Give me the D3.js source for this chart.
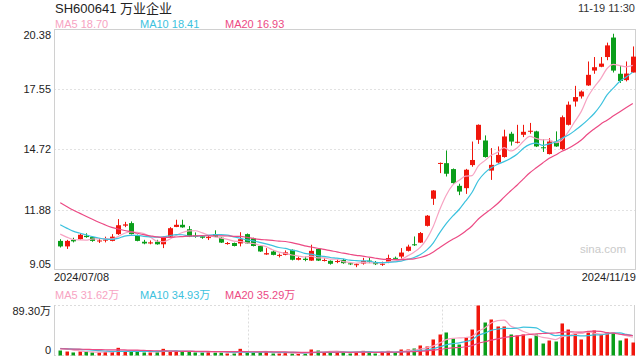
<!DOCTYPE html>
<html>
<head>
<meta charset="utf-8">
<script src="https://cdn.jsdelivr.net/npm/d3@7/dist/d3.min.js"></script>
<style>
body { margin: 0; background: #fff; }
text { font-family: "Liberation Sans", Arial, "Noto Sans CJK SC", sans-serif; }
</style>
</head>
<body>
<div id="kline"></div>
<script>
// daily candles 2024/07/08 .. 2024/11/19 (90 sessions)
const open  = [10.40,10.14,10.45,10.48,10.64,10.58,10.38,10.42,10.40,10.72,11.12,11.24,10.66,10.36,10.28,10.36,10.24,10.60,11.06,11.16,
               10.95,10.65,10.62,10.56,10.72,10.55,10.28,10.30,10.28,10.72,10.52,10.16,9.76,9.90,9.71,9.74,9.98,9.51,9.56,9.47,
               10.02,9.47,9.46,9.43,9.50,9.34,9.28,9.33,9.47,9.40,9.30,9.42,9.60,9.66,9.93,10.24,10.32,11.11,12.39,14.05,
               14.07,13.79,13.00,12.89,13.98,15.17,15.14,13.72,14.10,14.36,15.46,15.05,15.41,15.58,15.57,14.82,14.50,15.09,14.73,15.88,
               16.98,17.22,17.74,18.44,18.62,19.08,20.00,18.29,17.99,18.35];
const close = [10.14,10.40,10.38,10.69,10.58,10.40,10.42,10.46,10.60,11.14,11.18,10.72,10.40,10.28,10.33,10.24,10.55,11.00,11.16,11.04,
               10.60,10.60,10.55,10.58,10.60,10.32,10.30,10.16,10.48,10.28,10.16,9.90,9.82,9.74,9.74,9.86,9.51,9.59,9.50,9.93,
               9.47,9.50,9.32,9.45,9.35,9.31,9.30,9.45,9.42,9.30,9.32,9.59,9.58,9.85,10.13,10.20,10.77,11.59,12.78,14.08,
               13.57,13.13,12.73,13.76,14.22,15.88,14.36,13.99,14.46,15.33,15.09,15.08,15.55,15.60,14.86,14.78,15.09,14.86,16.24,16.83,
               17.19,17.45,18.24,18.60,18.77,19.63,18.44,17.95,18.30,19.10];
const high  = [10.48,10.45,10.55,10.75,10.76,10.62,10.52,10.60,10.72,11.43,11.30,11.32,10.70,10.45,10.42,10.45,10.60,11.05,11.40,11.40,
               11.10,10.80,10.65,10.66,10.90,10.58,10.35,10.32,10.81,10.75,10.55,10.18,10.06,9.95,9.80,9.95,10.00,9.66,9.66,10.22,
               10.05,9.58,9.48,9.52,9.55,9.40,9.34,9.60,9.60,9.45,9.42,9.75,9.66,10.06,10.22,10.61,10.82,11.62,12.80,14.10,
               14.67,13.82,13.10,13.80,15.09,15.90,15.38,14.78,14.86,15.65,15.55,15.88,15.88,15.97,15.60,15.20,15.25,15.57,16.32,16.98,
               17.72,17.50,18.87,19.08,19.08,19.76,20.18,18.67,18.87,19.58];
const low   = [10.09,10.02,10.33,10.45,10.55,10.36,10.30,10.33,10.38,10.68,11.05,10.70,10.38,10.24,10.24,10.22,10.06,10.58,11.05,11.02,
               10.58,10.55,10.50,10.44,10.58,10.30,10.22,10.14,10.14,10.26,10.14,9.88,9.74,9.72,9.62,9.72,9.48,9.48,9.44,9.46,
               9.45,9.43,9.28,9.35,9.32,9.26,9.16,9.28,9.35,9.26,9.22,9.35,9.56,9.56,9.90,10.16,10.30,11.08,12.10,13.60,
               13.44,13.10,12.56,12.62,13.90,14.98,14.33,13.28,14.05,14.33,14.90,15.00,15.30,15.46,14.83,14.60,14.48,14.84,14.70,15.85,
               16.74,17.12,17.72,18.29,18.60,18.93,18.35,17.86,17.93,18.35];
// volume in 万手
const volume = [8.9,7.1,5.4,7.1,7.1,5.4,5.4,6.5,6.5,13.7,8.3,7.7,7.1,5.4,5.4,5.9,11.9,8.3,7.7,7.1,
                7.1,5.4,5.4,6.5,5.9,5.9,3.6,3.6,11.9,5.9,5.9,5.9,6.5,3.6,3.6,5.4,3.6,3.6,3.6,10.7,
                8.9,6.0,7.1,6.0,6.0,3.6,6.0,8.3,6.0,3.6,7.1,8.3,6.0,10.7,10.7,12.5,17.9,16.1,28.6,37.5,
                41.1,30.4,19.6,32.1,46.4,89.3,58.9,64.3,51.8,51.8,37.5,35.7,37.5,30.4,37.5,21.4,26.8,25.0,57.2,46.4,
                39.3,28.6,41.1,44.7,37.5,41.1,41.1,26.8,30.4,23.2];
// the 19 sessions before the window, estimated so the MA lines start where the picture has them
const priorCloses  = [13.90,13.75,13.60,13.45,13.30,13.20,13.05,12.85,12.70,12.60,11.95,11.80,11.60,11.40,11.25,11.10,10.95,10.80,10.61];
const priorVolumes = [11,12,10,13,11,12,10,11,12,13,12,11,13,12,12,15,14,13,14];

const yTicks = [20.38, 17.55, 14.72, 11.88, 9.05];
const volMax = 89.30;
const xLabels = ["2024/07/08", "2024/11/19"];
const maPeriods = [5, 10, 20];
const maColors = ["#f7a3c2", "#3cc2de", "#ec4a84"];
const priceLegend = ["18.70", "18.41", "16.93"];
const volLegend = ["31.62万", "34.93万", "35.29万"];

let width = 640, height = 360;
const up = "#f0160c", down = "#0a9e1a";

let svg = d3.select("#kline").append("svg")
  .attr("width", width).attr("height", height);

const n = close.length;
let x = d3.scaleBand().domain(d3.range(n)).range([57, 636]);
let cx = i => Math.round(x(i) + x.bandwidth() / 2) + 0.5;
let y = d3.scaleLinear().domain([9.05, 20.38]).range([269.5, 29.5]);
let yv = d3.scaleLinear().domain([0, volMax]).range([355.5, 305.5]);

function movingAvg(prior, vals, p) {
  let all = prior.concat(vals);
  return vals.map((v, i) => d3.mean(all.slice(i + prior.length - p + 1, i + prior.length + 1)));
}

// header
svg.append("text").attr("x", 55).attr("y", 12.5).text("SH600641 万业企业")
  .style("font-size", "13px").attr("fill", "#222");
svg.append("text").attr("x", 635).attr("y", 12).attr("text-anchor", "end").text("11-19 11:30")
  .style("font-size", "11px").attr("fill", "#333");

let legendX = [55, 140, 225];
maPeriods.forEach((p, k) => {
  svg.append("text").attr("x", legendX[k]).attr("y", 28).text("MA" + p + " " + priceLegend[k])
    .style("font-size", "11px").attr("fill", maColors[k]);
  svg.append("text").attr("x", legendX[k]).attr("y", 299).text("MA" + p + " " + volLegend[k])
    .style("font-size", "11px").attr("fill", maColors[k]);
});

// price panel frame + grid
svg.append("g").selectAll("line").data(yTicks.slice(1, -1)).join("line")
  .attr("x1", 54).attr("x2", 636)
  .attr("y1", d => Math.round(y(d)) + 0.5).attr("y2", d => Math.round(y(d)) + 0.5)
  .attr("stroke", "#e2e2e2").attr("stroke-dasharray", "2,2");
svg.append("rect").attr("x", 54.5).attr("y", 29.5).attr("width", 581).attr("height", 240)
  .attr("fill", "none").attr("stroke", "#d0d0d0");

let yAxis = svg.append("g").attr("transform", "translate(54,0)")
  .call(d3.axisLeft(y).tickValues(yTicks).tickSize(0).tickPadding(3).tickFormat(d3.format(".2f")));
yAxis.select(".domain").remove();
yAxis.selectAll("text").style("font-size", "11px").attr("fill", "#222").style("font-family", null)
  .attr("dy", (d, i) => i == 0 ? "0.85em" : i == yTicks.length - 1 ? "-0.15em" : "0.32em");

svg.append("text").attr("x", 603).attr("y", 253).attr("text-anchor", "middle").text("sina.com")
  .style("font-size", "11.5px").attr("fill", "#cacaca");

svg.append("text").attr("x", 54).attr("y", 281).text(xLabels[0]).style("font-size", "11px").attr("fill", "#222");
svg.append("text").attr("x", 636).attr("y", 281).attr("text-anchor", "end").text(xLabels[1])
  .style("font-size", "11px").attr("fill", "#222");

svg.append("clipPath").attr("id", "clipP").append("rect").attr("x", 55).attr("y", 30).attr("width", 580).attr("height", 239);
svg.append("clipPath").attr("id", "clipV").append("rect").attr("x", 55).attr("y", 306).attr("width", 579).attr("height", 50);

// candles
let data = d3.range(n).map(i => ({i: i, o: open[i], c: close[i], h: high[i], l: low[i], v: volume[i]}));
let g = svg.append("g").attr("class", "candles");
g.selectAll("line").data(data).join("line")
  .attr("x1", d => cx(d.i)).attr("x2", d => cx(d.i))
  .attr("y1", d => y(d.h)).attr("y2", d => y(d.l))
  .attr("stroke", d => d.c >= d.o ? up : down);
g.selectAll("rect").data(data).join("rect")
  .attr("x", d => cx(d.i) - 2.5).attr("width", 5)
  .attr("y", d => y(Math.max(d.o, d.c)))
  .attr("height", d => Math.max(1, Math.abs(y(d.o) - y(d.c))))
  .attr("fill", d => d.c >= d.o ? up : down);

let lineP = svg.append("g").attr("clip-path", "url(#clipP)");
maPeriods.forEach((p, k) => {
  let ma = movingAvg(priorCloses, close, p);
  lineP.append("path").datum(ma)
    .attr("d", d3.line().x((d, i) => x(i) + x.bandwidth() / 2).y(d => y(d)).curve(d3.curveMonotoneX))
    .attr("fill", "none").attr("stroke", maColors[k]).attr("stroke-width", 1.2);
});

// volume panel
let vg = svg.append("g");
[54 + 582 / 3, 54 + 582 * 2 / 3].forEach(xx => {
  vg.append("line").attr("x1", Math.round(xx) + 0.5).attr("x2", Math.round(xx) + 0.5).attr("y1", 305.5).attr("y2", 355.5)
    .attr("stroke", "#dcdcdc").attr("stroke-dasharray", "2,2");
});
[305.5, 355.5].forEach(yy => {
  vg.append("line").attr("x1", 54).attr("x2", 635).attr("y1", yy).attr("y2", yy)
    .attr("stroke", "#dcdcdc").attr("stroke-dasharray", "2,2");
});
vg.append("line").attr("x1", 54.5).attr("x2", 54.5).attr("y1", 305).attr("y2", 356).attr("stroke", "#d0d0d0");
vg.append("line").attr("x1", 634.5).attr("x2", 634.5).attr("y1", 305).attr("y2", 356).attr("stroke", "#d0d0d0");

vg.selectAll("rect.vol").data(data).join("rect").attr("class", "vol")
  .attr("x", d => cx(d.i) - 2).attr("width", 3.5)
  .attr("y", d => yv(d.v)).attr("height", d => yv(0) - yv(d.v))
  .attr("fill", d => d.c >= d.o ? up : down);

let lineV = svg.append("g").attr("clip-path", "url(#clipV)");
maPeriods.forEach((p, k) => {
  let ma = movingAvg(priorVolumes, volume, p);
  lineV.append("path").datum(ma)
    .attr("d", d3.line().x((d, i) => x(i) + x.bandwidth() / 2).y(d => yv(d)).curve(d3.curveMonotoneX))
    .attr("fill", "none").attr("stroke", maColors[k]).attr("stroke-width", 1.2);
});

let vAxis = svg.append("g").attr("transform", "translate(54,0)")
  .call(d3.axisLeft(yv).tickValues([volMax, 0]).tickSize(0).tickPadding(3)
    .tickFormat(d => d == 0 ? "0" : d3.format(".2f")(d) + "万"));
vAxis.select(".domain").remove();
vAxis.selectAll("text").style("font-size", "11px").attr("fill", "#222").style("font-family", null)
  .attr("dy", (d, i) => i == 0 ? "0.85em" : "-0.15em");
</script>
</body>
</html>
